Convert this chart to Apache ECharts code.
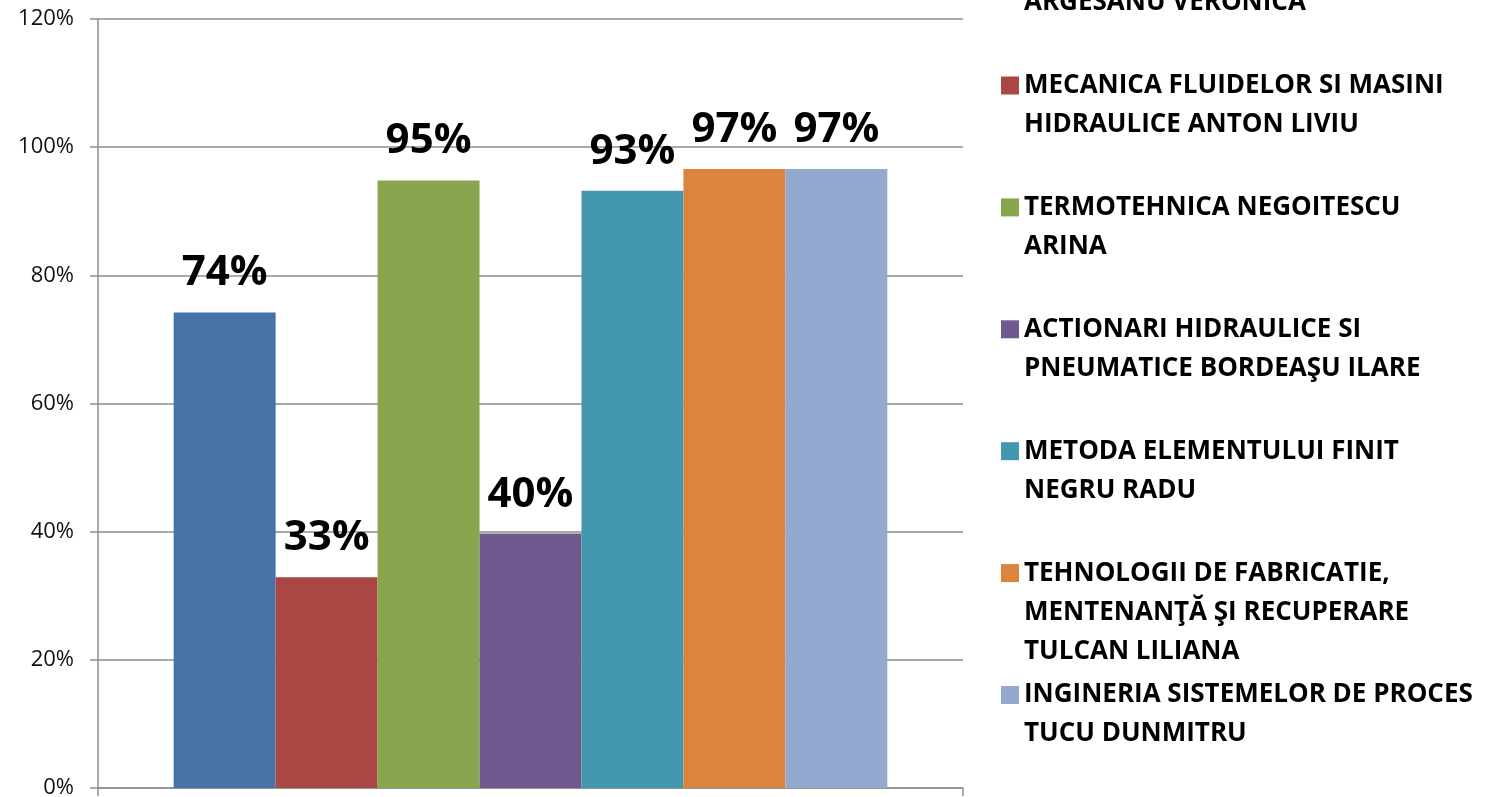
<!DOCTYPE html>
<html>
<head>
<meta charset="utf-8">
<script src="https://cdn.jsdelivr.net/npm/echarts@6/dist/echarts.min.js"></script>
<style>
  html, body { margin: 0; padding: 0; background: #fff; }
  #chart { width: 1509px; height: 797px; }
</style>
</head>
<body>
<div id="chart"></div>
<script>
// series = one course / teacher each, single category
var seriesNames = [
    'ARGESANU VERONICA',
    'MECANICA FLUIDELOR SI MASINI\nHIDRAULICE ANTON LIVIU',
    'TERMOTEHNICA NEGOITESCU\nARINA',
    'ACTIONARI HIDRAULICE SI\nPNEUMATICE BORDEAŞU ILARE',
    'METODA ELEMENTULUI FINIT\nNEGRU RADU',
    'TEHNOLOGII DE FABRICATIE,\nMENTENANŢĂ ŞI RECUPERARE\nTULCAN LILIANA',
    'INGINERIA SISTEMELOR DE PROCES\nTUCU DUNMITRU'
];
var values = [74.2, 32.9, 94.8, 39.7, 93.2, 96.6, 96.6];
var colors = ['#4572A7', '#AA4643', '#89A54E', '#71588F', '#4198AF', '#DB843D', '#93A9CF'];
var categories = [''];
var yMin = 0, yMax = 120, yStep = 20;

var chart = echarts.init(document.getElementById('chart'));

var lineH = 39;
var pitch = 121.9;
var gray = '#8e8e8e';

var series = seriesNames.map(function (name, i) {
    return {
        name: name,
        type: 'bar',
        barGap: 0,
        barCategoryGap: '17.5%',
        itemStyle: { color: colors[i] },
        label: {
            show: true,
            position: 'top',
            distance: 18,
            fontFamily: 'Open Sans',
            fontWeight: 'bold',
            fontSize: 42,
            color: '#000',
            formatter: function (p) { return Math.round(p.value) + '%'; }
        },
        data: [values[i]]
    };
});

// one legend per entry so the entries sit on a fixed pitch,
// marker level with the first text line (empty lines pushed in front)
var legends = seriesNames.map(function (name, i) {
    var lines = name.split('\n').length;
    var pad = new Array(lines).join('\n');
    var firstLine = -36.4 + pitch * i;
    if (i === 0) firstLine += lineH; // its first line is off the top
    return {
        orient: 'vertical',
        left: 1001,
        top: firstLine - (2 * lines - 1) * lineH / 2,
        padding: 0,
        selectedMode: false,
        icon: 'rect',
        itemWidth: 18,
        itemHeight: 18,
        itemStyle: i === 0 ? { opacity: 0 } : {},
        formatter: function (n) { return pad + n; },
        textStyle: {
            fontFamily: 'Open Sans',
            fontWeight: 'bold',
            fontSize: 26,
            lineHeight: lineH,
            color: '#000'
        },
        data: [name]
    };
});

var options = {
    animation: false,
    color: colors,
    grid: { left: 98, right: 546, top: 19, bottom: 9, outerBoundsMode: 'none' },
    legend: legends,
    xAxis: {
        type: 'category',
        data: categories,
        axisLine: { lineStyle: { color: gray, width: 1.5 } },
        axisTick: { show: true, length: 8, lineStyle: { color: gray, width: 1.5 } },
        axisLabel: { show: false }
    },
    yAxis: {
        type: 'value',
        min: yMin,
        max: yMax,
        interval: yStep,
        axisLine: { show: true, lineStyle: { color: gray, width: 1.5 } },
        axisTick: { show: true, length: 8, lineStyle: { color: gray, width: 1.5 } },
        splitLine: { lineStyle: { color: gray, width: 1.5 } },
        axisLabel: {
            formatter: '{value}%',
            fontFamily: 'Open Sans',
            fontSize: 22,
            color: '#111',
            margin: 24
        }
    },
    series: series
};
chart.setOption(options, true);
</script>
</body>
</html>
